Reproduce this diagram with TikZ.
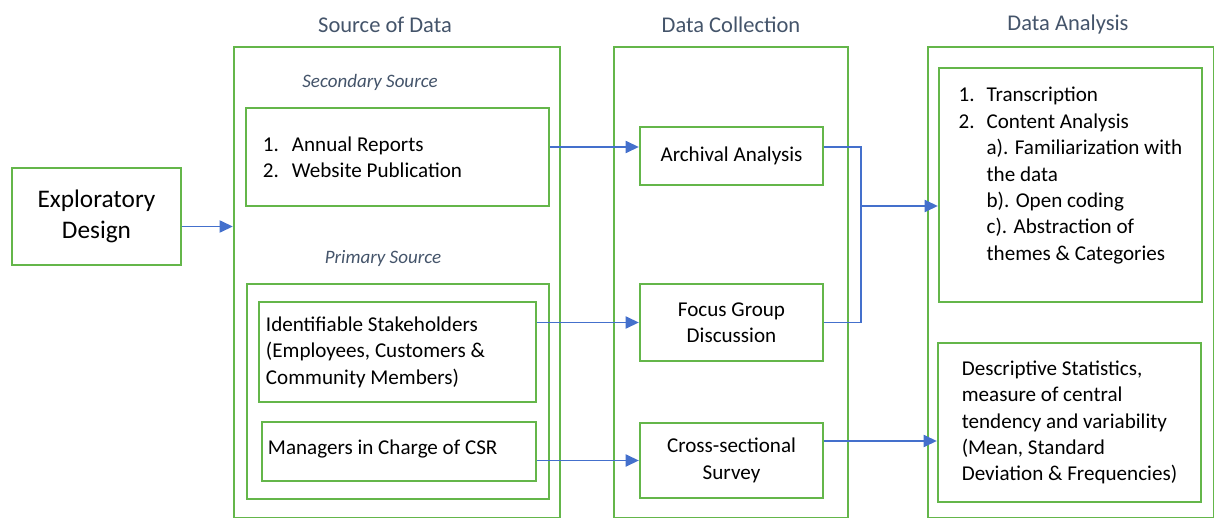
\documentclass[tikz,border=0pt]{standalone}
\usepackage{fontspec}
\setmainfont{Carlito}
\usetikzlibrary{arrows.meta}
\definecolor{boxgreen}{HTML}{64B64A}
\definecolor{linkblue}{HTML}{4470CC}
\definecolor{headslate}{HTML}{44546A}

\begin{document}
\begin{tikzpicture}[
        x=0.025cm, y=-0.025cm,
        frame/.style={rectangle, draw=boxgreen, line width=1.6pt, inner sep=0pt},
        box/.style={frame, font=\fontsize{15}{18.8}\selectfont, align=center},
        listbox/.style={box, align=flush left},
        head/.style={font=\fontsize{16}{19}\selectfont, text=headslate},
        sub/.style={font=\fontsize{13.5}{16}\selectfont\itshape, text=headslate},
        link/.style={draw=linkblue, line width=1.4pt},
        arrow/.style={link, -{Triangle[length=0.33cm, width=0.3cm]}}
    ]
    \useasboundingbox (0,0) rectangle (1214,518);

    % column headings
    \node[head] (hsrc) at (385,25) {Source of Data};
    \node[head] (hcol) at (731,25) {Data Collection};
    \node[head] (hana) at (1068,25) {Data Analysis};

    % outer frames
    \node[frame, minimum width=8.15cm, minimum height=11.775cm] (srcbox) at (397,282.5) {};
    \node[frame, minimum width=5.85cm, minimum height=11.775cm] (colbox) at (731,282.5) {};
    \node[frame, minimum width=7.15cm, minimum height=11.775cm] (anabox) at (1071,282.5) {};

    \node[box, font=\fontsize{18}{21.5}\selectfont, minimum width=4.225cm, minimum height=2.425cm] (expl) at (96.5,216.5) {Exploratory\\Design};

    % source of data
    \node[sub] (secl) at (370,82) {Secondary Source};
    \node[listbox, minimum width=7.575cm, minimum height=2.45cm, inner xsep=0.425cm, text width=6.725cm] (sec) at (397.5,157)
        {\makebox[0.725cm][l]{1.}Annual Reports\\\makebox[0.725cm][l]{2.}Website Publication};
    \node[sub] (priml) at (383,258) {Primary Source};
    \node[frame, minimum width=7.55cm, minimum height=5.375cm] (prim) at (398,391.5) {};
    \node[listbox, minimum width=6.925cm, minimum height=2.5cm, inner xsep=0.175cm, text width=6.575cm] (ident) at (397.5,352)
        {Identifiable Stakeholders\\(Employees, Customers \&\\Community Members)};
    \node[listbox, minimum width=6.85cm, minimum height=1.475cm, inner xsep=0.15cm, text width=6.55cm] (mgr) at (399,451.5)
        {Managers in Charge of CSR\\[-0.45cm]\mbox{}};

    % data collection
    \node[box, minimum width=4.575cm, minimum height=1.45cm] (arch) at (731.5,156) {Archival Analysis};
    \node[box, minimum width=4.575cm, minimum height=1.925cm] (focus) at (731.5,322.5) {Focus Group\\Discussion};
    \node[box, minimum width=4.575cm, minimum height=1.875cm] (cross) at (731.5,460.5) {Cross-sectional\\Survey};

    % data analysis
    \node[listbox, minimum width=6.575cm, minimum height=5.85cm] (ana1) at (1070.5,185)
        {\makebox[0.7cm][l]{1.}Transcription\\\makebox[0.7cm][l]{2.}Content Analysis\\
         \hspace*{0.7cm}a). Familiarization with\\\hspace*{0.7cm}the data\\
         \hspace*{0.7cm}b). Open coding\\\hspace*{0.7cm}c). Abstraction of\\
         \hspace*{0.7cm}themes \& Categories\\[-0.1cm]\mbox{}};
    \node[listbox, minimum width=6.575cm, minimum height=3.975cm] (ana2) at (1069.5,422.5)
        {Descriptive Statistics,\\measure of central\\tendency and variability\\(Mean, Standard\\Deviation \& Frequencies)};

    \coordinate (jn) at (861,206);

    % connectors
    \draw[arrow] ([yshift=-0.25cm]expl.east) -- ([yshift=-0.25cm]expl.east -| srcbox.west);
    \draw[arrow] ([yshift=0.225cm]arch.west -| sec.east) -- ([yshift=0.225cm]arch.west);
    \draw[arrow] (focus.west -| ident.east) -- (focus.west);
    \draw[arrow] (cross.west -| mgr.east) -- (cross.west);
    \draw[link] ([yshift=0.225cm]arch.east) -| (jn);
    \draw[link] (focus.east) -| (jn);
    \draw[arrow] (jn) -- (jn -| ana1.west);
    \draw[arrow] ([yshift=0.4875cm]cross.east) -- ([yshift=0.4875cm]cross.east -| ana2.west);

\end{tikzpicture}
\end{document}
